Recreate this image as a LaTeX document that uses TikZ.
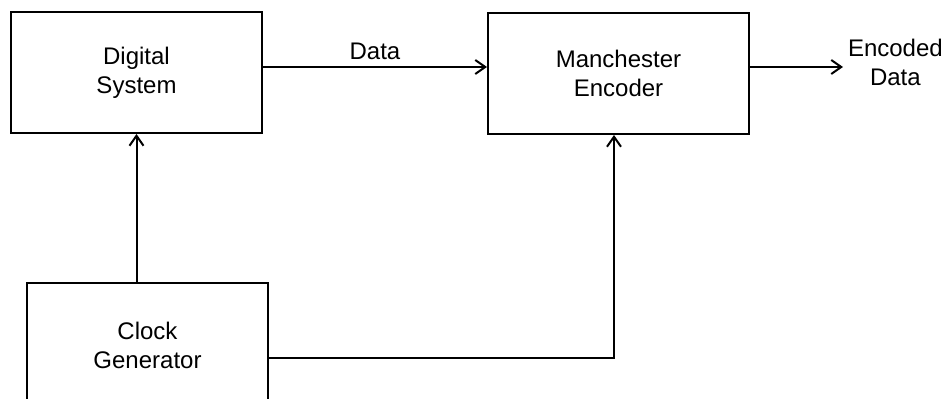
\documentclass[tikz,border=0pt]{standalone}
\usepackage{fontspec}
\setmainfont{Liberation Sans}
\usetikzlibrary{positioning,arrows.meta}
\begin{document}
\begin{tikzpicture}[>={Straight Barb[length=5pt,width=7pt]}, x=0.5pt, y=-0.5pt, line width=1pt, font=\fontsize{12}{14.5}\selectfont]
\useasboundingbox (0,0) rectangle (948,399);
\node[draw, minimum width=125.5pt, minimum height=60.5pt, align=center] (ds) at (136.5,72.5) {Digital\\System};
\node[draw, minimum width=130.5pt, minimum height=60.5pt, align=center] (me) at (618.5,73.5) {Manchester\\Encoder};
\node[draw, minimum width=120.5pt, minimum height=62pt, align=center] (cg) at (147.5,345) {Clock\\Generator};
\node[anchor=west, align=center, inner sep=2pt] (out) at (843,62) {Encoded\\Data};
\draw[->] ([yshift=2.75pt]ds.east) -- ([yshift=2.75pt]ds.east -| me.west) node[midway, above] {Data};
\draw[->] ([yshift=3.25pt]me.east) -- ([yshift=3.25pt]me.east -| out.west);
\draw[->] (cg.north -| ds.south) -- (ds.south);
\draw[->] ([yshift=-6.5pt]cg.east) -| ([xshift=-2.25pt]me.south);
\end{tikzpicture}
\end{document}
